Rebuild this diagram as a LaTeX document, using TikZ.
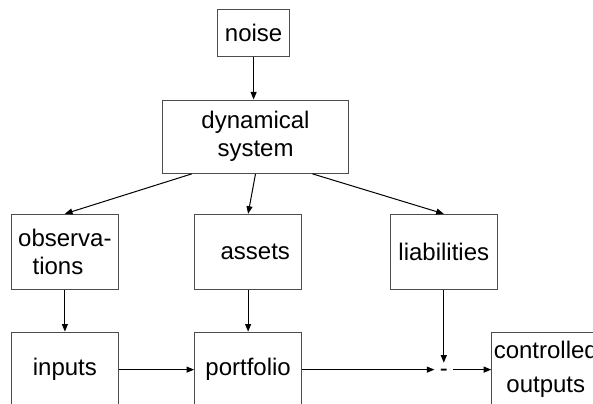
\documentclass[tikz,border=0pt]{standalone}
\usepackage{fontspec}
\setmainfont{Liberation Sans}
\usepackage{tikz}
\usetikzlibrary{arrows.meta, positioning}
\tikzstyle{block}    = [rectangle, minimum width=53.5pt, minimum height=37.5pt, inner sep=1pt, text centered, align=center, draw=black!70, line width=0.5pt, font=\fontsize{12}{14}\selectfont]
\tikzstyle{noisebox} = [block, minimum width=35.7pt, minimum height=23.35pt]
\tikzstyle{sysbox}   = [block, minimum width=92.85pt, minimum height=36.65pt]
\tikzstyle{junction} = [inner xsep=2.5pt, inner ysep=0pt, text height=6.5pt, text depth=0pt, font=\fontsize{12}{14}\selectfont]
\tikzstyle{arrow}    = [line width=0.5pt, -{Triangle[length=3.8pt, width=3pt]}]

\begin{document}
\begin{tikzpicture}[x=1pt, y=1pt]
\useasboundingbox (0,0) rectangle (296.5,-201.5);
\node (noise) [noisebox] at (126.8,-16.35) {noise};
\node (dyn) [sysbox, node distance=52pt, below of=noise, xshift=0.95pt] {dynamical\\system};
\node (assets) [block, node distance=57.55pt, below of=dyn, xshift=-3.7pt] {\hspace*{.6em}assets};
\node (obs) [block, node distance=91.6pt, left of=assets, align=left] {observa-\\\hspace*{.6em}tions};
\node (liab) [block, node distance=97.85pt, right of=assets] {liabilities};
\node (inputs) [block, node distance=58.9pt, below of=obs] {inputs};
\node (port) [block, node distance=58.9pt, below of=assets] {portfolio};
\node (sum) [junction, node distance=58.9pt, below of=liab] {-};
\node (ctrl) [block, node distance=51pt, right of=sum, font=\fontsize{12}{17}\selectfont] {controlled\\outputs};

\draw [arrow] (noise.south) -- (noise.south |- dyn.north);
\draw [arrow] ([xshift=-31.85pt]dyn.south) -- (obs.north);
\draw [arrow] (dyn.south) -- (assets.north);
\draw [arrow] ([xshift=28.5pt]dyn.south) -- (liab.north);
\draw [arrow] (obs.south) -- (inputs.north);
\draw [arrow] (assets.south) -- (port.north);
\draw [arrow] (liab.south) -- (sum.north);
\draw [arrow] (inputs.east) -- (port.west);
\draw [arrow] (port.east) -- (sum.west);
\draw [arrow] (sum.east) -- (ctrl.west);
\end{tikzpicture}
\end{document}
